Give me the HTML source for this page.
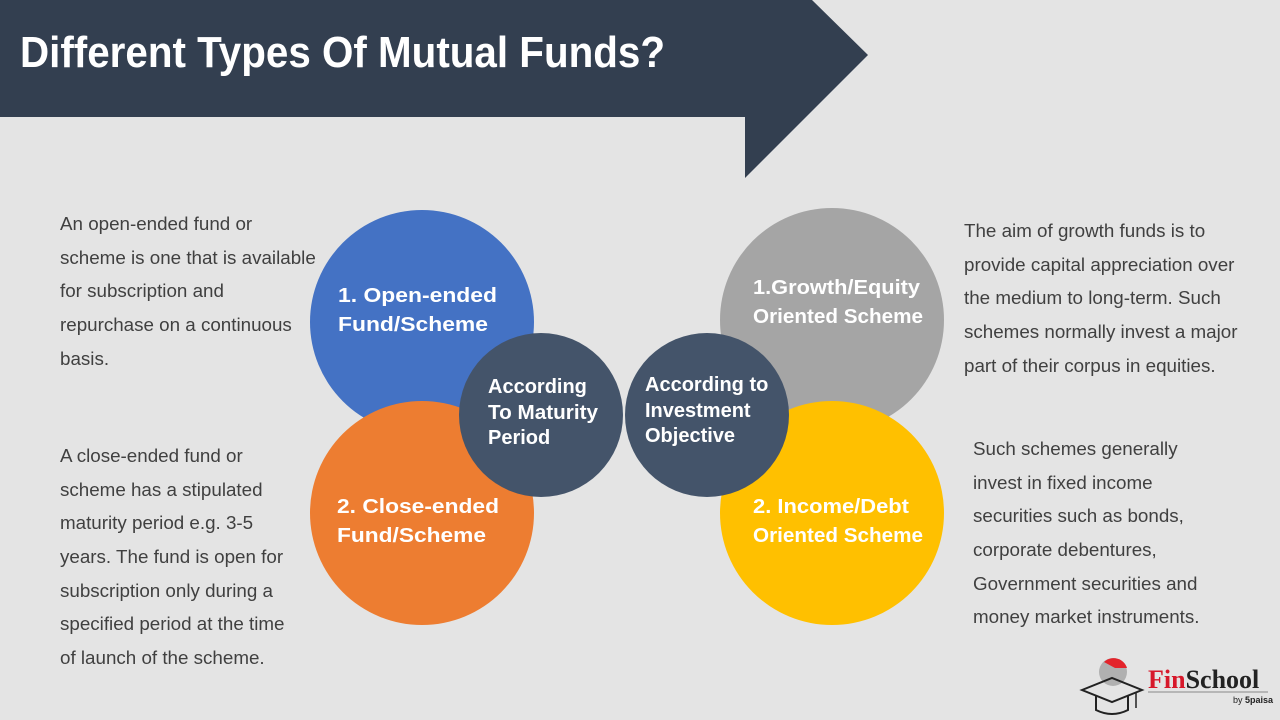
<!DOCTYPE html>
<html><head><meta charset="utf-8"><style>
html,body{margin:0;padding:0;background:#e4e4e4;}
svg{display:block}
.b{font-family:"Liberation Sans",sans-serif;font-size:18.8px;fill:#404040}
.c{font-family:"Liberation Sans",sans-serif;font-size:20px;font-weight:bold;fill:#fff}
</style></head><body>
<svg width="1280" height="720" viewBox="0 0 1280 720" xmlns="http://www.w3.org/2000/svg">
<rect width="1280" height="720" fill="#e4e4e4"/>
<polygon points="0,0 812,0 868,55 745,178 745,117 0,117" fill="#333f50"/>
<text x="20" y="67" font-family="Liberation Sans,sans-serif" font-weight="bold" font-size="44" fill="#fff" textLength="645" lengthAdjust="spacingAndGlyphs">Different Types Of Mutual Funds?</text>

<circle cx="422" cy="322" r="112" fill="#4472c4"/>
<circle cx="422" cy="513" r="112" fill="#ed7d31"/>
<circle cx="832" cy="320" r="112" fill="#a5a5a5"/>
<circle cx="832" cy="513" r="112" fill="#ffc000"/>
<circle cx="541" cy="415" r="82" fill="#44546a"/>
<circle cx="707" cy="415" r="82" fill="#44546a"/>

<text class="c" x="338" y="302" textLength="159" lengthAdjust="spacingAndGlyphs">1. Open-ended</text>
<text class="c" x="338" y="331" textLength="150" lengthAdjust="spacingAndGlyphs">Fund/Scheme</text>
<text class="c" x="337" y="513" textLength="162" lengthAdjust="spacingAndGlyphs">2. Close-ended</text>
<text class="c" x="337" y="542" textLength="149" lengthAdjust="spacingAndGlyphs">Fund/Scheme</text>
<text class="c" x="753" y="294" font-size="19" textLength="167" lengthAdjust="spacingAndGlyphs">1.Growth/Equity</text>
<text class="c" x="753" y="323" font-size="19" textLength="170" lengthAdjust="spacingAndGlyphs">Oriented Scheme</text>
<text class="c" x="753" y="513" font-size="19" textLength="156" lengthAdjust="spacingAndGlyphs">2. Income/Debt</text>
<text class="c" x="753" y="542" font-size="19" textLength="170" lengthAdjust="spacingAndGlyphs">Oriented Scheme</text>
<text class="c" x="488" y="393" font-size="19">According</text>
<text class="c" x="488" y="419" font-size="19" textLength="110" lengthAdjust="spacingAndGlyphs">To Maturity</text>
<text class="c" x="488" y="444" font-size="19">Period</text>
<text class="c" x="645" y="391" font-size="19">According to</text>
<text class="c" x="645" y="417" font-size="19">Investment</text>
<text class="c" x="645" y="442" font-size="19">Objective</text>

<g class="b">
<text x="60" y="230">An open-ended fund or</text>
<text x="60" y="264">scheme is one that is available</text>
<text x="60" y="297">for subscription and</text>
<text x="60" y="331">repurchase on a continuous</text>
<text x="60" y="365">basis.</text>
<text x="60" y="462">A close-ended fund or</text>
<text x="60" y="496">scheme has a stipulated</text>
<text x="60" y="529">maturity period e.g. 3-5</text>
<text x="60" y="563">years. The fund is open for</text>
<text x="60" y="597">subscription only during a</text>
<text x="60" y="630">specified period at the time</text>
<text x="60" y="664">of launch of the scheme.</text>
<text x="964" y="237">The aim of growth funds is to</text>
<text x="964" y="271">provide capital appreciation over</text>
<text x="964" y="304">the medium to long-term. Such</text>
<text x="964" y="338">schemes normally invest a major</text>
<text x="964" y="372">part of their corpus in equities.</text>
<text x="973" y="455">Such schemes generally</text>
<text x="973" y="489">invest in fixed income</text>
<text x="973" y="522">securities such as bonds,</text>
<text x="973" y="556">corporate debentures,</text>
<text x="973" y="590">Government securities and</text>
<text x="973" y="623">money market instruments.</text>
</g>

<g>
<circle cx="1113" cy="672" r="14" fill="#b0b0b0"/>
<path d="M1104,662 A14,14 0 0 1 1127,668 L1115,668 Z" fill="#e3242b"/>
<polygon points="1082,690 1112,678 1142,690 1112,702" fill="none" stroke="#222" stroke-width="2"/>
<path d="M1096,696 L1096,710 Q1112,718 1128,710 L1128,696" fill="none" stroke="#222" stroke-width="2"/>
<line x1="1136" y1="692" x2="1136" y2="708" stroke="#222" stroke-width="1.5"/>
<text x="1148" y="688" font-family="Liberation Serif,serif" font-weight="bold" font-size="26" fill="#d7182a">Fin<tspan fill="#222">School</tspan></text>
<line x1="1148" y1="692" x2="1268" y2="692" stroke="#888" stroke-width="1"/>
<text x="1233" y="703" font-family="Liberation Sans,sans-serif" font-size="9" fill="#222">by <tspan font-weight="bold">5paisa</tspan></text>
</g>
</svg>
</body></html>
